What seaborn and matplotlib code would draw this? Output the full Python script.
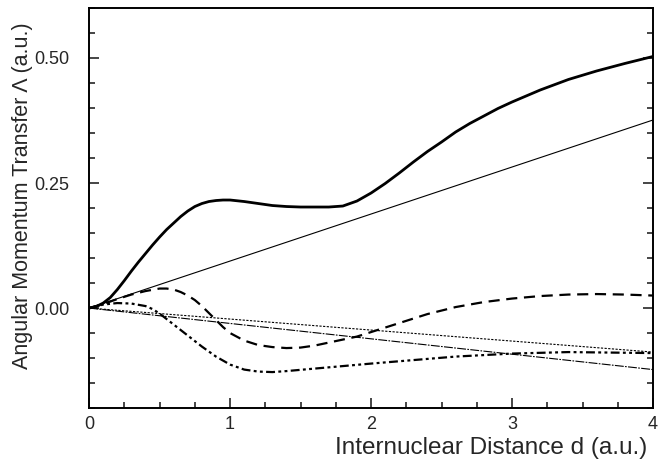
import matplotlib
matplotlib.use("Agg")
import matplotlib.pyplot as plt
import seaborn as sns
import numpy as np
import pandas as pd
from matplotlib.ticker import MultipleLocator

# ---- data ----
x_thick = [0, 0.05, 0.1, 0.15, 0.2, 0.25, 0.3, 0.35, 0.4, 0.45, 0.5, 0.55, 0.6, 0.65, 0.7,
           0.75, 0.8, 0.85, 0.9, 0.95, 1.0, 1.1, 1.2, 1.3, 1.4, 1.5, 1.6, 1.7, 1.8, 1.9,
           2.0, 2.1, 2.2, 2.3, 2.4, 2.5, 2.6, 2.7, 2.8, 2.9, 3.0, 3.1, 3.2, 3.4, 3.6, 3.8, 4.0]
y_thick = [0, 0.003, 0.010, 0.021, 0.037, 0.055, 0.074, 0.092, 0.109, 0.126, 0.142, 0.157,
           0.170, 0.183, 0.194, 0.203, 0.209, 0.213, 0.215, 0.216, 0.216, 0.213, 0.209, 0.205,
           0.203, 0.202, 0.202, 0.202, 0.204, 0.214, 0.230, 0.249, 0.270, 0.292, 0.313, 0.332,
           0.352, 0.369, 0.384, 0.399, 0.412, 0.424, 0.436, 0.457, 0.474, 0.489, 0.503]

x_thin = [0, 4.0]
y_thin = [0, 0.376]

x_dash = [0, 0.1, 0.2, 0.3, 0.4, 0.5, 0.55, 0.6, 0.65, 0.7, 0.75, 0.8, 0.85, 0.9, 0.95,
          1.0, 1.1, 1.2, 1.3, 1.4, 1.5, 1.6, 1.7, 1.8, 1.9, 2.0, 2.2, 2.4, 2.6, 2.8, 3.0,
          3.2, 3.4, 3.6, 3.8, 4.0]
y_dash = [0, 0.008, 0.018, 0.027, 0.034, 0.039, 0.039, 0.037, 0.032, 0.025, 0.016, 0.004,
          -0.010, -0.024, -0.038, -0.050, -0.065, -0.074, -0.078, -0.080, -0.079, -0.075,
          -0.069, -0.063, -0.057, -0.048, -0.030, -0.012, 0.002, 0.012, 0.019, 0.024, 0.027,
          0.028, 0.027, 0.025]

x_ddot = [0, 0.1, 0.2, 0.3, 0.4, 0.45, 0.5, 0.6, 0.7, 0.8, 0.9, 1.0, 1.1, 1.2, 1.3, 1.4,
          1.6, 1.8, 2.0, 2.3, 2.6, 3.0, 3.4, 3.7, 4.0]
y_ddot = [0, 0.007, 0.010, 0.009, 0.004, -0.002, -0.011, -0.033, -0.055, -0.077, -0.097,
          -0.113, -0.123, -0.127, -0.128, -0.126, -0.121, -0.116, -0.111, -0.104, -0.097,
          -0.091, -0.088, -0.089, -0.090]

x_dot = [0, 4.0]
y_dot = [0, -0.088]

x_thindd = [0, 4.0]
y_thindd = [0, -0.123]

x_ticks = [0, 1, 2, 3, 4]
y_ticks = [0.00, 0.25, 0.50]
y_tick_labels = ["0.00", "0.25", "0.50"]

sns.set_style("ticks")
plt.rcParams['font.family'] = ['Liberation Sans', 'DejaVu Sans']

fig = plt.figure(figsize=(6.65, 4.68), dpi=100)
ax = fig.add_axes([0.134, 0.128, 0.848, 0.855])

series = [
    (x_thick, y_thick, dict(color='black', lw=2.0, linestyle='-')),
    (x_thin, y_thin, dict(color='black', lw=0.8, linestyle='-')),
    (x_dash, y_dash, dict(color='black', lw=1.6, linestyle=(0, (5, 3)))),
    (x_ddot, y_ddot, dict(color='black', lw=1.6, linestyle=(0, (4, 1.5, 1.3, 1.5, 1.3, 1.5)))),
    (x_dot, y_dot, dict(color='black', lw=0.8, linestyle=(0, (2, 1.3)))),
    (x_thindd, y_thindd, dict(color='black', lw=0.8, linestyle=(0, (8, 1.2, 1.5, 1.2)))),
]
for xs, ys, kw in series:
    sns.lineplot(x=xs, y=ys, ax=ax, sort=False, estimator=None, **kw)

ax.set_xlim(0, 4)
ax.set_ylim(-0.2, 0.6)
ax.set_xticks(x_ticks)
ax.set_xticklabels([str(t) for t in x_ticks])
ax.set_yticks(y_ticks)
ax.set_yticklabels(y_tick_labels)
ax.xaxis.set_minor_locator(MultipleLocator(0.25))
ax.yaxis.set_minor_locator(MultipleLocator(0.05))
ax.tick_params(axis='both', which='major', direction='in', length=7, width=1.2,
               labelsize=13, right=True, top=False)
ax.tick_params(axis='x', which='major', pad=6)
ax.tick_params(axis='y', which='major', pad=14)
ax.tick_params(axis='both', which='minor', direction='in', length=4, width=1.2,
               right=True, top=False)
for sp in ax.spines.values():
    sp.set_linewidth(1.4)
    sp.set_color('black')

ax.set_xlabel("Internuclear Distance d (a.u.)", fontsize=17.5)
ax.set_ylabel("Angular Momentum Transfer Λ (a.u.)", fontsize=15.5)
ax.xaxis.set_label_coords(0.713, -0.072)
ax.yaxis.set_label_coords(-0.1, 0.53)

fig.savefig("out.png", dpi=100)
